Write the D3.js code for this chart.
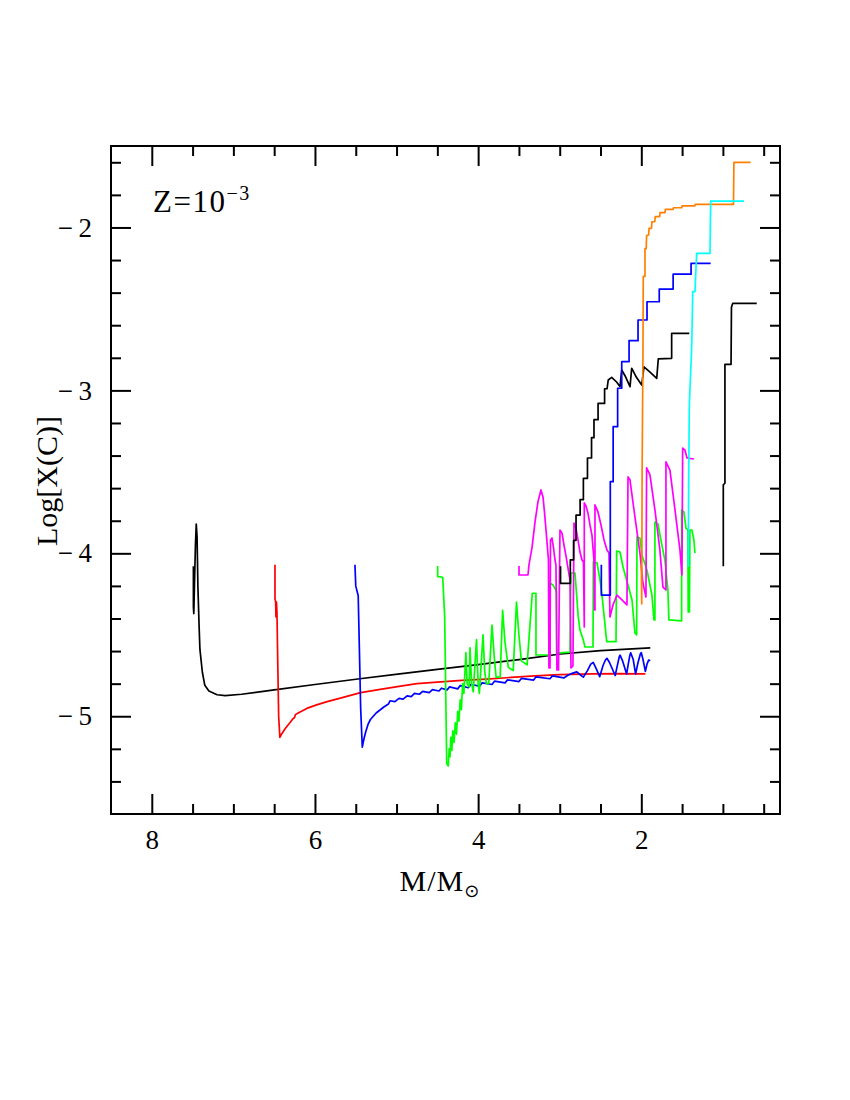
<!DOCTYPE html>
<html><head><meta charset="utf-8">
<script src="https://cdn.jsdelivr.net/npm/d3@7"></script>
<style>body{margin:0;background:#fff} text{font-family:"Liberation Serif","Times New Roman",serif;fill:#000}</style>
</head><body><svg id="c" width="850" height="1100"></svg>
<script>
const xMajorTicks=[8,6,4,2];
const xMinorTicks=[7.5,7,6.5,5.5,5,4.5,3.5,3,2.5,1.5,1,0.5];
const yMajorTicks=[-2,-3,-4,-5];
const yMinorTicks=[-1.6,-1.8,-2.2,-2.4,-2.6,-2.8,-3.2,-3.4,-3.6,-3.8,-4.2,-4.4,-4.6,-4.8,-5.2,-5.4];

const mass75=[[7.49,-4.08],[7.49,-4.33],[7.485,-4.37],[7.475,-4.15],[7.465,-3.95],[7.455,-3.82],[7.445,-3.9],[7.435,-4.2],[7.42,-4.45],[7.41,-4.59],[7.38,-4.73],[7.35,-4.81],[7.3,-4.845],[7.2,-4.868],[7.1,-4.873],[6.9,-4.865],[6.5,-4.838],[6.0,-4.805],[5.45,-4.77],[4.96,-4.74],[4.5,-4.712],[4.0,-4.683],[3.5,-4.652],[2.99,-4.618],[2.5,-4.597],[1.89,-4.58]];
const mass65=[[6.49,-4.07],[6.49,-4.28],[6.482,-4.30],[6.478,-4.39],[6.472,-4.30],[6.466,-4.36],[6.455,-4.7],[6.445,-5.0],[6.43,-5.13],[6.41,-5.11],[6.37,-5.08],[6.34,-5.06],[6.30,-5.035],[6.27,-5.015],[6.25,-5.008],[6.24,-4.99],[6.2,-4.978],[6.1,-4.952],[5.98,-4.93],[5.85,-4.91],[5.7,-4.89],[5.44,-4.855],[5.2,-4.835],[4.95,-4.815],[4.75,-4.80],[4.5,-4.79],[4.2,-4.78],[3.9,-4.772],[3.6,-4.762],[3.3,-4.752],[3.0,-4.745],[2.6,-4.74],[2.3,-4.738],[1.95,-4.74]];
const mass55=[[5.51,-4.07],[5.50,-4.2],[5.48,-4.24],[5.47,-4.26],[5.455,-4.6],[5.44,-4.95],[5.42,-5.19],[5.40,-5.14],[5.38,-5.10],[5.35,-5.05],[5.32,-5.02],[5.25,-4.98],[5.16,-4.945],[5.10,-4.925],[5.08,-4.905],[5.02,-4.91],[4.97,-4.89],[4.92,-4.895],[4.87,-4.875],[4.82,-4.88],[4.78,-4.86],[4.72,-4.865],[4.68,-4.847],[4.60,-4.855],[4.56,-4.837],[4.48,-4.845],[4.45,-4.828],[4.38,-4.838],[4.35,-4.82],[4.25,-4.832],[4.22,-4.812],[4.12,-4.825],[4.09,-4.805],[3.98,-4.815],[3.95,-4.795],[3.83,-4.805],[3.80,-4.785],[3.67,-4.795],[3.64,-4.777],[3.50,-4.787],[3.47,-4.768],[3.32,-4.778],[3.29,-4.758],[3.12,-4.770],[3.09,-4.752],[2.95,-4.765],[2.90,-4.748],[2.84,-4.735],[2.79,-4.728],[2.75,-4.745],[2.71,-4.76],[2.66,-4.72],[2.62,-4.68],[2.59,-4.67],[2.56,-4.70],[2.51,-4.757],[2.47,-4.69],[2.44,-4.655],[2.42,-4.645],[2.39,-4.67],[2.32,-4.75],[2.29,-4.68],[2.27,-4.635],[2.26,-4.625],[2.23,-4.66],[2.18,-4.74],[2.16,-4.68],[2.14,-4.625],[2.13,-4.61],[2.10,-4.65],[2.07,-4.74],[2.04,-4.67],[2.01,-4.615],[2.0,-4.61],[1.98,-4.65],[1.95,-4.725],[1.93,-4.68],[1.91,-4.655],[1.89,-4.66]];
const mass45=[[4.496,-4.078],[4.496,-4.143],[4.434,-4.147],[4.41,-4.39],[4.385,-5.29],[4.366,-5.305],[4.355,-5.20],[4.345,-5.25],[4.335,-5.13],[4.322,-5.21],[4.31,-5.09],[4.295,-5.16],[4.28,-5.04],[4.265,-5.11],[4.25,-4.97],[4.235,-5.03],[4.22,-4.90],[4.205,-4.96],[4.19,-4.80],[4.175,-4.86],[4.15,-4.61],[4.135,-4.80],[4.11,-4.82],[4.10,-4.58],[4.08,-4.80],[4.06,-4.85],[4.02,-4.53],[4.00,-4.80],[3.985,-4.86],[3.94,-4.50],[3.92,-4.72],[3.90,-4.80],[3.87,-4.80],[3.83,-4.44],[3.80,-4.65],[3.78,-4.76],[3.73,-4.76],[3.70,-4.35],[3.67,-4.55],[3.63,-4.70],[3.57,-4.72],[3.53,-4.30],[3.50,-4.50],[3.47,-4.66],[3.40,-4.685],[3.336,-4.245],[3.291,-4.245],[3.291,-4.624],[3.119,-4.624],[3.119,-4.182],[3.083,-4.194],[3.037,-4.237],[3.037,-4.612],[2.874,-4.606],[2.862,-4.121],[2.813,-4.121],[2.773,-4.389],[2.752,-4.471],[2.711,-4.532],[2.690,-4.575],[2.592,-4.575],[2.588,-4.053],[2.543,-4.059],[2.506,-4.164],[2.482,-4.256],[2.457,-4.379],[2.424,-4.542],[2.310,-4.542],[2.302,-3.986],[2.261,-3.992],[2.224,-4.084],[2.163,-4.194],[2.114,-4.286],[2.078,-4.489],[2.057,-4.501],[2.053,-3.900],[2.017,-3.906],[1.992,-4.010],[1.931,-4.102],[1.870,-4.256],[1.845,-4.409],[1.833,-4.409],[1.833,-3.808],[1.796,-3.820],[1.760,-3.918],[1.711,-4.041],[1.674,-4.225],[1.662,-4.409],[1.506,-4.415],[1.506,-3.734],[1.478,-3.746],[1.453,-3.845],[1.429,-3.857],[1.425,-4.360],[1.410,-4.360],[1.404,-3.857],[1.380,-3.857],[1.355,-3.918],[1.343,-3.998]];
const mass35=[[3.499,-4.078],[3.499,-4.133],[3.389,-4.133],[3.377,-4.071],[3.340,-3.967],[3.303,-3.808],[3.267,-3.685],[3.230,-3.611],[3.205,-3.654],[3.187,-3.746],[3.168,-3.857],[3.150,-3.967],[3.138,-4.041],[3.132,-4.704],[3.119,-4.704],[3.113,-3.918],[3.095,-3.906],[3.076,-3.967],[3.058,-4.041],[3.046,-4.071],[3.034,-4.716],[3.015,-4.716],[2.997,-3.857],[2.972,-3.876],[2.948,-3.949],[2.923,-4.016],[2.899,-4.090],[2.874,-4.164],[2.862,-4.704],[2.838,-4.691],[2.825,-3.814],[2.801,-3.845],[2.776,-3.918],[2.752,-3.992],[2.727,-4.041],[2.709,-4.053],[2.699,-4.452],[2.699,-3.691],[2.678,-3.709],[2.654,-3.752],[2.629,-3.826],[2.605,-3.888],[2.580,-4.041],[2.574,-4.348],[2.568,-4.348],[2.568,-3.703],[2.531,-3.746],[2.494,-3.826],[2.457,-3.918],[2.421,-3.980],[2.396,-3.998],[2.384,-4.391],[2.347,-4.317],[2.298,-4.256],[2.237,-4.286],[2.176,-4.317],[2.163,-3.531],[2.139,-3.549],[2.078,-3.777],[2.017,-3.998],[1.980,-4.182],[1.943,-4.268],[1.935,-3.476],[1.894,-3.519],[1.833,-3.734],[1.772,-3.980],[1.735,-4.207],[1.698,-4.225],[1.698,-3.439],[1.649,-3.489],[1.587,-3.734],[1.526,-3.980],[1.502,-4.133],[1.493,-3.354],[1.465,-3.366],[1.440,-3.415],[1.354,-3.421]];
const mass30=[[2.99,-4.08],[2.99,-4.184],[2.87,-4.184],[2.87,-4.04],[2.83,-4.04],[2.83,-3.92],[2.80,-3.92],[2.80,-3.765],[2.75,-3.765],[2.75,-3.67],[2.71,-3.67],[2.71,-3.54],[2.66,-3.54],[2.66,-3.415],[2.61,-3.415],[2.61,-3.29],[2.58,-3.29],[2.58,-3.18],[2.53,-3.18],[2.53,-3.08],[2.45,-3.08],[2.45,-2.99],[2.42,-2.99],[2.405,-2.936],[2.363,-2.92],[2.30,-2.95],[2.261,-2.977],[2.24,-2.875],[2.2,-2.91],[2.138,-2.977],[2.118,-2.864],[2.06,-2.92],[1.995,-2.967],[1.967,-2.855],[1.9,-2.885],[1.811,-2.926],[1.792,-2.807],[1.628,-2.803],[1.628,-2.65],[1.412,-2.65]];
const mass25=[[2.49,-4.07],[2.49,-4.256],[2.38,-4.256],[2.38,-3.56],[2.345,-3.56],[2.345,-3.223],[2.29,-3.223],[2.29,-2.987],[2.24,-2.987],[2.24,-2.824],[2.15,-2.824],[2.15,-2.695],[2.04,-2.695],[2.04,-2.568],[1.93,-2.568],[1.93,-2.456],[1.78,-2.456],[1.78,-2.378],[1.61,-2.378],[1.61,-2.287],[1.39,-2.287],[1.39,-2.22],[1.15,-2.22]];
const mass20=[[2.0,-4.07],[1.995,-4.31],[1.99,-3.5],[1.98,-2.8],[1.976,-2.30],[1.955,-2.30],[1.955,-2.13],[1.94,-2.13],[1.935,-2.05],[1.91,-2.046],[1.905,-2.005],[1.875,-2.005],[1.87,-1.965],[1.835,-1.965],[1.83,-1.934],[1.775,-1.934],[1.77,-1.909],[1.71,-1.909],[1.705,-1.889],[1.61,-1.889],[1.605,-1.879],[1.505,-1.879],[1.50,-1.868],[1.345,-1.868],[1.34,-1.858],[0.87,-1.858],[0.865,-1.60],[0.66,-1.60]];
const mass15=[[1.424,-4.082],[1.42,-3.6],[1.412,-3.10],[1.40,-2.95],[1.383,-2.742],[1.375,-2.55],[1.37,-2.394],[1.342,-2.394],[1.33,-2.25],[1.321,-2.159],[1.158,-2.159],[1.15,-1.838],[0.742,-1.838]];
const mass10=[[0.995,-4.08],[0.995,-3.58],[0.975,-3.57],[0.975,-2.84],[0.90,-2.84],[0.895,-2.49],[0.88,-2.466],[0.585,-2.466]];

const seriesList=[
 {data:mass75,color:"#000000"},{data:mass65,color:"#ff0000"},{data:mass55,color:"#0000ff"},
 {data:mass45,color:"#00ff00"},{data:mass35,color:"#ff00ff"},{data:mass30,color:"#000000"},
 {data:mass25,color:"#0000ff"},{data:mass20,color:"#ff8000"},{data:mass15,color:"#00ffff"},
 {data:mass10,color:"#000000"}];

const svg=d3.select("#c");
const L=111,R=780,T=146,B=814;
const x=d3.scaleLinear().domain([8.5,0.3]).range([L,R]);
const y=d3.scaleLinear().domain([-5.6,-1.5]).range([B,T]);
const fmt=d=>d<0?"\u2212\u2009"+Math.abs(d):String(d);

const plot=svg.append("g");
plot.append("clipPath").attr("id","clip").append("rect").attr("x",L).attr("y",T).attr("width",R-L).attr("height",B-T);
const line=d3.line().x(d=>x(d[0])).y(d=>y(d[1]));
const lines=plot.append("g").attr("clip-path","url(#clip)");
seriesList.forEach(s=>{
  lines.append("path").datum(s.data).attr("d",line).attr("fill","none")
   .attr("stroke",s.color).attr("stroke-width",1.7).attr("stroke-linejoin","round");
});

function styleAxis(g){g.select(".domain").remove();g.selectAll("line").attr("stroke","#000").attr("stroke-width",2);}
svg.append("g").attr("transform",`translate(0,${B})`).call(d3.axisBottom(x).tickValues(xMajorTicks).tickSize(-20).tickPadding(16).tickFormat(fmt)).call(styleAxis).selectAll("text").attr("font-size",27).attr("font-family","Liberation Serif");
svg.append("g").attr("transform",`translate(0,${B})`).call(d3.axisBottom(x).tickValues(xMinorTicks).tickSize(-10).tickFormat("")).call(styleAxis);
svg.append("g").attr("transform",`translate(0,${T})`).call(d3.axisTop(x).tickValues(xMajorTicks).tickSize(-20).tickFormat("")).call(styleAxis);
svg.append("g").attr("transform",`translate(0,${T})`).call(d3.axisTop(x).tickValues(xMinorTicks).tickSize(-10).tickFormat("")).call(styleAxis);
svg.append("g").attr("transform",`translate(${L},0)`).call(d3.axisLeft(y).tickValues(yMajorTicks).tickSize(-20).tickPadding(19).tickFormat(fmt)).call(styleAxis).selectAll("text").attr("font-size",27).attr("font-family","Liberation Serif");
svg.append("g").attr("transform",`translate(${L},0)`).call(d3.axisLeft(y).tickValues(yMinorTicks).tickSize(-10).tickFormat("")).call(styleAxis);
svg.append("g").attr("transform",`translate(${R},0)`).call(d3.axisRight(y).tickValues(yMajorTicks).tickSize(-20).tickFormat("")).call(styleAxis);
svg.append("g").attr("transform",`translate(${R},0)`).call(d3.axisRight(y).tickValues(yMinorTicks).tickSize(-10).tickFormat("")).call(styleAxis);
svg.append("rect").attr("x",L).attr("y",T).attr("width",R-L).attr("height",B-T).attr("fill","none").attr("stroke","#000").attr("stroke-width",2);

const xl=svg.append("text").attr("x",440).attr("y",891).attr("text-anchor","middle").attr("font-size",30).attr("letter-spacing",1);
xl.append("tspan").text("M/M");
xl.append("tspan").attr("font-size",18).attr("dy",6).attr("font-family","DejaVu Sans").text("\u2299");
svg.append("text").attr("transform","translate(57,481) rotate(-90)").attr("text-anchor","middle").attr("font-size",30).text("Log[X(C)]");
const zl=svg.append("text").attr("x",153).attr("y",212).attr("font-size",31).attr("letter-spacing",1.5);
zl.append("tspan").text("Z=10");
zl.append("tspan").attr("font-size",20).attr("dy",-12).text("\u22123");
</script></body></html>
